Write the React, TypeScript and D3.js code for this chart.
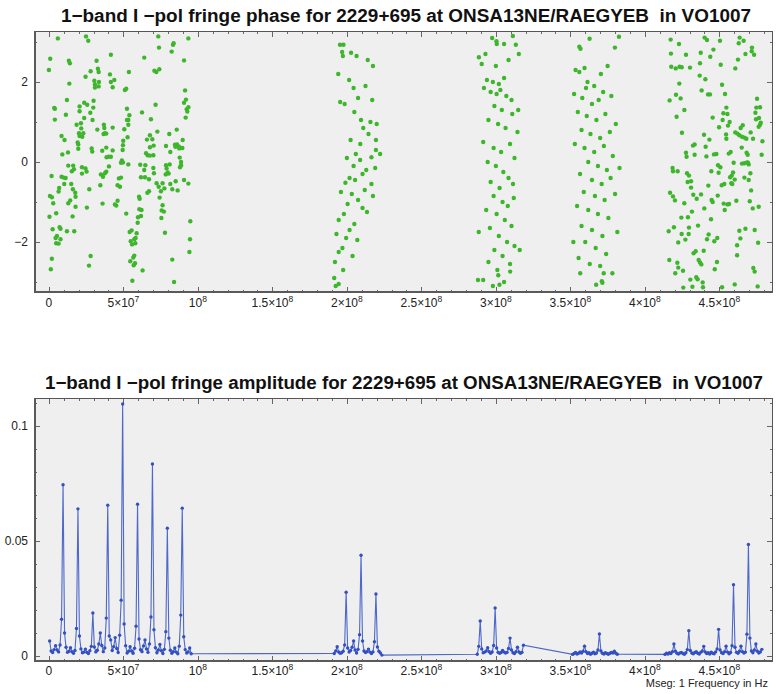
import { useEffect, useRef } from 'react';
import * as d3 from 'd3';

const W = 776;
const H = 694;

const titlePhase = '1\u2212band I \u2212pol fringe phase for 2229+695 at ONSA13NE/RAEGYEB  in VO1007';
const titleAmp = '1\u2212band I \u2212pol fringe amplitude for 2229+695 at ONSA13NE/RAEGYEB  in VO1007';
const footNote = 'Mseg: 1 Frequency in Hz';

// fringe phase samples, [frequency MHz, phase rad]
const phaseBand1: [number, number][] = [
  [6.0, 3.09], [24.9, 3.14], [26.4, 3.03], [73.4, 3.14], [93.6, 3.09], [83.7, 2.97], [83.3, 2.93], [73.9, 2.86],
  [82.4, 2.76], [41.6, 2.68], [64.0, 2.61], [0.9, 2.58], [13.4, 2.53], [14.1, 2.47], [32.0, 2.53], [90.7, 2.54],
  [0.0, 2.30], [28.0, 2.27], [32.9, 2.33], [33.4, 2.25], [53.7, 2.25], [70.8, 2.28], [72.1, 2.25], [74.1, 2.32],
  [41.0, 2.19], [24.6, 2.13], [13.7, 1.96], [30.5, 2.03], [33.6, 2.0], [30.9, 1.94], [30.9, 1.86], [33.4, 1.89],
  [41.6, 2.0], [43.9, 2.05], [42.8, 1.87], [51.0, 1.8], [51.9, 1.83], [91.4, 1.79], [12.1, 1.55], [23.7, 1.48],
  [20.6, 1.39], [25.7, 1.43], [30.0, 1.53], [3.6, 1.35], [4.0, 1.33], [11.4, 1.18], [20.6, 1.27], [27.8, 1.23],
  [29.8, 1.36], [52.4, 1.33], [54.0, 1.17], [62.5, 1.24], [71.6, 1.43], [90.7, 1.48], [92.0, 1.56], [93.6, 1.37],
  [92.9, 1.26], [92.5, 1.32], [91.8, 1.11], [4.0, 1.06], [23.7, 1.1], [21.5, 0.97], [18.6, 0.93], [29.3, 1.05],
  [52.4, 1.05], [53.3, 1.05], [68.5, 1.07], [42.8, 0.86], [32.5, 0.81], [36.9, 0.93], [37.2, 0.85], [37.6, 0.72],
  [36.7, 0.7], [38.5, 0.71], [21.7, 0.84], [20.2, 0.72], [23.1, 0.72], [20.6, 0.65], [22.4, 0.63], [53.3, 0.93],
  [50.6, 0.82], [52.8, 0.62], [67.8, 0.67], [72.8, 0.76], [80.8, 0.7], [85.8, 0.81], [8.5, 0.65], [10.5, 0.55],
  [19.3, 0.49], [19.7, 0.44], [19.7, 0.33], [28.7, 0.34], [29.1, 0.26], [38.5, 0.36], [42.8, 0.29], [49.9, 0.53],
  [49.7, 0.42], [49.5, 0.3], [65.8, 0.56], [69.4, 0.57], [70.3, 0.41], [67.8, 0.37], [78.6, 0.4], [84.6, 0.43],
  [86.0, 0.44], [87.3, 0.38], [89.8, 0.55], [89.6, 0.35], [81.5, 0.25], [9.0, 0.19], [12.8, 0.24], [35.8, 0.28],
  [40.1, 0.13], [38.7, 0.12], [41.6, 0.13], [65.2, 0.22], [66.3, 0.17], [67.8, 0.16], [70.1, 0.17], [84.9, 0.38],
  [87.5, 0.34], [87.8, 0.11], [13.0, -0.09], [16.3, -0.09], [16.8, -0.18], [15.4, -0.23], [22.2, -0.13], [24.6, -0.16],
  [22.2, -0.29], [25.3, -0.24], [49.0, 0.04], [48.4, -0.02], [49.7, -0.01], [53.3, -0.06], [61.3, -0.07], [64.7, -0.08],
  [64.0, -0.2], [70.1, -0.15], [70.5, -0.28], [78.6, -0.08], [81.1, -0.06], [79.0, -0.16], [79.7, -0.26], [78.4, -0.31],
  [80.4, -0.29], [88.7, 0.0], [88.7, -0.08], [88.0, -0.13], [1.8, -0.35], [8.5, -0.37], [9.9, -0.39], [11.2, -0.4],
  [10.3, -0.55], [6.9, -0.65], [6.5, -0.74], [15.0, -0.55], [16.1, -0.68], [17.7, -0.77], [17.9, -0.87], [13.0, -1.03],
  [14.3, -0.96], [17.9, -1.12], [27.1, -0.68], [25.5, -1.14], [34.9, -0.31], [36.3, -0.37], [37.6, -0.28], [38.5, -0.24],
  [40.3, -0.11], [34.5, -0.58], [46.1, -0.58], [47.0, -0.41], [48.4, -0.39], [47.7, -0.62], [61.8, -0.38], [64.5, -0.38],
  [67.2, -0.43], [72.3, -0.53], [73.7, -0.62], [76.3, -0.53], [75.2, -0.73], [77.5, -0.66], [67.2, -0.73], [66.1, -0.77],
  [81.5, -0.55], [85.1, -0.48], [90.7, -0.45], [93.6, -0.54], [82.8, -0.68], [86.4, -0.71], [46.1, -0.97], [44.3, -1.06],
  [45.2, -1.09], [36.0, -1.04], [60.5, -0.87], [60.9, -0.92], [0.7, -0.85], [2.0, -0.88], [2.9, -1.03], [4.9, -1.28],
  [0.4, -1.37], [15.9, -1.36], [12.1, -1.73], [17.0, -1.73], [2.5, -1.68], [7.2, -1.63], [7.8, -1.67], [5.4, -1.85],
  [7.8, -1.93], [4.5, -1.9], [4.9, -2.03], [6.5, -2.04], [74.3, -0.89], [76.3, -1.08], [75.7, -1.21], [77.2, -1.24],
  [75.5, -1.4], [51.9, -1.29], [60.7, -1.18], [62.2, -1.2], [61.8, -1.35], [59.8, -1.38], [59.6, -1.52], [55.5, -1.71],
  [54.2, -1.75], [58.9, -1.78], [94.9, -1.48], [77.9, -1.77], [58.2, -1.9], [57.3, -1.93], [54.9, -1.98], [58.0, -2.03],
  [55.8, -2.06], [94.7, -1.93], [28.0, -2.35], [26.9, -2.59], [2.0, -2.42], [1.3, -2.68], [57.3, -2.34], [56.6, -2.39],
  [54.6, -2.48], [57.8, -2.53], [56.9, -2.58], [62.9, -2.71], [56.0, -2.97], [82.8, -2.44], [94.3, -2.25], [84.0, -3.0],
];

const phaseBand2: [number, number][] = [
  [195.4, 2.93], [197.7, 2.93], [196.8, 2.75], [202.8, 2.73], [197.3, 2.65], [217.5, 2.4], [194.2, 2.2], [201.5, 2.05],
  [212.5, 1.9], [195.5, 1.5], [198.5, 1.45], [217.0, 1.55], [205.0, 1.25], [209.5, 1.05], [215.8, 1.0], [220.0, 0.95],
  [211.0, 0.85], [202.5, 0.55], [209.0, 0.45], [219.5, 0.3], [222.3, 0.2], [216.5, 0.12], [208.9, 0.05], [204.5, -0.1],
  [213.0, -0.2], [219.0, -0.15], [201.8, -0.4], [205.5, -0.45], [199.0, -0.52], [216.5, -0.55], [212.0, -0.7], [196.0, -0.75],
  [203.3, -0.8], [207.5, -0.95], [200.5, -1.05], [210.5, -1.15], [213.5, -1.25], [198.0, -1.3], [194.5, -1.45], [205.0, -1.55],
  [201.8, -1.7], [193.0, -1.8], [199.5, -1.9], [207.0, -1.95], [197.0, -2.15], [194.5, -2.25], [203.8, -2.35], [192.0, -2.5],
  [197.5, -2.7], [191.5, -2.9], [194.5, -3.05], [192.5, -3.1], [207.5, 1.6], [204.5, 1.85], [214.5, 0.7], [219.5, 0.55],
  [206.0, 0.2], [210.5, -0.3], [200.0, 0.1], [217.5, -0.85], [214.0, 2.55], [206.5, 2.65],
];

const phaseBand3: [number, number][] = [
  [300.4, 3.02], [300.6, 2.95], [311.4, 3.15], [313.4, 2.93], [315.4, 2.7], [288.6, 2.62], [297.5, 3.1], [305.5, 2.95],
  [290.5, 2.45], [300.0, 2.4], [308.5, 2.55], [294.0, 2.05], [298.0, 2.0], [302.0, 1.95], [305.5, 2.1], [292.0, 1.85],
  [296.5, 1.75], [300.5, 1.7], [303.0, 1.8], [307.0, 1.65], [310.5, 1.55], [299.0, 1.4], [304.0, 1.3], [311.0, 1.2],
  [295.0, 1.05], [301.5, 0.95], [306.5, 0.85], [314.5, 0.75], [291.5, 0.5], [298.5, 0.35], [303.5, 0.25], [309.5, 0.45],
  [312.5, 0.1], [294.5, 0.0], [300.0, -0.1], [305.0, -0.25], [308.5, -0.4], [296.5, -0.5], [302.5, -0.65], [311.5, -0.55],
  [298.5, -0.85], [304.5, -1.0], [308.0, -1.1], [293.5, -1.2], [300.5, -1.3], [306.0, -1.45], [310.5, -1.6], [296.0, -1.65],
  [288.5, -1.75], [302.0, -1.85], [307.5, -2.0], [312.5, -2.1], [299.0, -2.2], [304.5, -2.35], [295.0, -2.5], [309.5, -2.55],
  [301.0, -2.7], [288.0, -2.95], [291.5, -2.95], [305.5, -3.0], [298.0, -3.1], [316.0, -2.2], [315.0, 1.3], [293.0, 2.7],
  [312.0, -0.9], [301.6, -2.83], [302.4, -3.07], [309.6, -2.74],
];

const phaseBand4: [number, number][] = [
  [356.0, 2.88], [356.8, 2.83], [362.9, 3.08], [379.9, 2.86], [382.6, 3.13], [353.5, 2.3], [356.0, 2.25], [359.5, 2.35],
  [370.5, 2.2], [375.0, 2.4], [361.5, 2.0], [366.0, 1.9], [372.0, 1.75], [352.5, 1.7], [358.0, 1.6], [364.5, 1.45],
  [369.0, 1.55], [377.5, 1.65], [355.0, 1.25], [361.0, 1.15], [367.5, 1.05], [373.5, 1.2], [380.5, 0.95], [357.5, 0.8],
  [363.5, 0.7], [370.0, 0.6], [376.5, 0.75], [353.0, 0.45], [359.5, 0.35], [366.0, 0.25], [372.5, 0.4], [378.5, 0.15],
  [362.0, 0.0], [368.5, -0.1], [374.5, -0.2], [356.5, -0.3], [364.5, -0.45], [371.0, -0.55], [377.0, -0.4], [359.0, -0.75],
  [366.5, -0.85], [373.0, -0.95], [380.0, -0.8], [354.5, -1.1], [362.0, -1.2], [368.5, -1.3], [375.5, -1.4], [381.5, -1.75],
  [357.5, -1.6], [364.5, -1.7], [371.5, -1.85], [360.0, -2.0], [367.0, -2.15], [374.0, -2.3], [355.5, -2.4], [363.0, -2.55],
  [370.0, -2.6], [356.6, -2.78], [367.3, -3.07], [371.1, -2.98], [371.5, -3.02], [372.4, -2.78], [378.2, -2.78], [352.0, -2.0],
  [383.0, -0.15], [360.5, 1.85],
];

const phaseBand5: [number, number][] = [
  [417.3, 3.06], [422.9, 2.95], [440.1, 3.11], [441.7, 3.05], [450.4, 3.03], [463.6, 3.11], [466.3, 3.03], [463.0, 2.97],
  [446.0, 2.81], [437.5, 2.73], [427.6, 2.68], [417.5, 2.71], [471.9, 2.86], [471.7, 2.77], [473.3, 2.68], [467.5, 2.7],
  [443.9, 2.63], [462.5, 2.56], [437.0, 2.47], [450.9, 2.43], [417.7, 2.38], [420.7, 2.34], [423.3, 2.38], [424.7, 2.37],
  [430.3, 2.36], [460.7, 2.34], [436.8, 2.16], [440.6, 2.07], [423.1, 1.96], [451.8, 1.93], [438.1, 1.79], [442.4, 1.69],
  [443.7, 1.69], [453.8, 1.7], [420.9, 1.68], [424.0, 1.59], [416.6, 1.54], [475.3, 1.58], [426.5, 1.3], [454.7, 1.36],
  [474.8, 1.36], [477.3, 1.37], [452.7, 1.22], [455.4, 1.2], [474.2, 1.23], [421.3, 1.13], [445.5, 1.11], [452.2, 1.05],
  [456.9, 1.0], [455.8, 0.91], [449.8, 0.87], [474.6, 1.07], [476.6, 1.1], [477.8, 0.98], [477.3, 0.93], [476.4, 0.88],
  [465.7, 0.92], [464.3, 0.85], [460.7, 0.74], [462.1, 0.71], [463.4, 0.67], [465.2, 0.63], [466.8, 0.61], [468.1, 0.58],
  [471.0, 0.74], [472.6, 0.58], [478.9, 0.52], [424.9, 0.73], [439.7, 0.68], [443.3, 0.56], [454.5, 0.69], [454.7, 0.58],
  [433.4, 0.44], [432.3, 0.41], [440.8, 0.38], [427.6, 0.23], [428.0, 0.13], [433.4, 0.18], [441.3, 0.14], [446.4, 0.19],
  [448.0, 0.2], [456.3, 0.21], [457.6, 0.25], [465.0, 0.36], [468.3, 0.23], [469.0, 0.18], [478.4, 0.18], [418.6, -0.15],
  [418.9, -0.23], [422.0, -0.23], [428.3, -0.28], [429.6, -0.34], [449.1, -0.08], [450.7, -0.13], [459.6, -0.02], [465.2, -0.04],
  [466.8, -0.03], [468.6, -0.01], [469.7, -0.06], [469.2, -0.02], [444.6, -0.23], [449.5, -0.27], [459.2, -0.26], [458.3, -0.34],
  [457.2, -0.38], [460.3, -0.44], [458.0, -0.53], [458.7, -0.55], [466.8, -0.39], [469.7, -0.45], [470.8, -0.28], [428.7, -0.5],
  [431.0, -0.48], [431.0, -0.64], [442.6, -0.59], [451.6, -0.58], [453.3, -0.55], [416.9, -0.77], [418.9, -0.86], [420.2, -0.96],
  [426.5, -1.03], [432.5, -0.82], [434.8, -0.92], [437.7, -0.81], [448.9, -0.84], [444.8, -0.95], [445.5, -1.0], [452.9, -1.04],
  [455.4, -1.06], [456.5, -1.05], [461.4, -0.97], [470.4, -0.98], [471.3, -0.71], [439.9, -1.16], [453.6, -1.2], [472.4, -1.16],
  [476.4, -1.12], [431.6, -1.24], [424.5, -1.39], [428.9, -1.38], [444.4, -1.43], [416.0, -1.73], [419.5, -1.63], [424.7, -1.8],
  [429.6, -1.64], [429.4, -1.8], [435.7, -1.59], [427.2, -1.94], [422.4, -2.01], [442.8, -1.81], [441.7, -1.93], [448.6, -1.9],
  [446.6, -1.98], [463.4, -1.72], [467.5, -1.67], [473.7, -1.7], [464.1, -1.91], [461.9, -2.08], [476.0, -2.02], [434.1, -2.23],
  [432.7, -2.28], [439.5, -2.22], [461.9, -2.33], [416.4, -2.45], [436.1, -2.45], [437.0, -2.51], [437.9, -2.56], [448.4, -2.5],
  [446.9, -2.68], [421.8, -2.52], [422.4, -2.64], [425.6, -2.72], [420.4, -2.78], [472.8, -2.65], [473.7, -2.74], [434.5, -2.88],
  [435.4, -2.93], [430.5, -2.94], [438.8, -3.01], [439.0, -3.13], [431.9, -3.12], [425.8, -3.14], [451.8, -3.13], [460.3, -3.06],
  [475.7, -3.11],
];

// fringe amplitude per 1 MHz channel, first channel frequency of each band in MHz
const ampStartMHz = [0.5, 191.5, 287.5, 351.5, 413.5];
const ampChannelMHz = 1;

const ampBand1 = [
  0.0065, 0.0022, 0.0015, 0.0028, 0.0045, 0.0026, 0.0018, 0.0048, 0.016, 0.0745,
  0.010, 0.0038, 0.0016, 0.0021, 0.0036, 0.0019, 0.0012, 0.0024, 0.012, 0.064,
  0.0087, 0.0031, 0.0014, 0.0017, 0.003, 0.0016, 0.0011, 0.0023, 0.0042, 0.0187,
  0.0039, 0.0018, 0.0025, 0.0052, 0.010, 0.0046, 0.0019, 0.0035, 0.0165, 0.0656,
  0.0087, 0.007, 0.0024, 0.0041, 0.008, 0.0033, 0.0015, 0.009, 0.0243, 0.1096,
  0.0139, 0.0045, 0.0013, 0.0021, 0.004, 0.0022, 0.0012, 0.0034, 0.013, 0.066,
  0.0074, 0.0027, 0.0019, 0.0044, 0.007, 0.0031, 0.0016, 0.0052, 0.017, 0.0835,
  0.0114, 0.0036, 0.0014, 0.0026, 0.005, 0.0023, 0.0011, 0.0029, 0.0106, 0.0556,
  0.0078, 0.0025, 0.0012, 0.0019, 0.0035, 0.0017, 0.001, 0.0043, 0.0178, 0.0643,
  0.0084, 0.0028, 0.0013, 0.0018, 0.0035, 0.0010,
];

const ampBand2 = [
  0.0011, 0.0022, 0.004, 0.0018, 0.0012, 0.0014, 0.0021, 0.0048, 0.0277, 0.0035,
  0.0017, 0.0024, 0.0038, 0.0065, 0.0026, 0.0013, 0.0029, 0.0093, 0.0438, 0.0065,
  0.0022, 0.0015, 0.0019, 0.003, 0.0017, 0.0011, 0.0018, 0.0062, 0.027, 0.0039,
  0.0021, 0.0013, 0.0004,
];

const ampBand3 = [
  0.0008, 0.0042, 0.0152, 0.0031, 0.0014, 0.0017, 0.0022, 0.0036, 0.0019, 0.0012,
  0.0018, 0.0046, 0.0209, 0.0035, 0.0016, 0.0012, 0.0015, 0.0024, 0.0017, 0.0013,
  0.0016, 0.0033, 0.0078, 0.0026, 0.0014, 0.0011, 0.0019, 0.0038, 0.0018, 0.0012,
  0.0016, 0.0047,
];

const ampBand4 = [
  0.0007, 0.0011, 0.0015, 0.0009, 0.0012, 0.0018, 0.0013, 0.0021, 0.0043, 0.0019,
  0.0011, 0.0014, 0.0008, 0.0012, 0.0017, 0.001, 0.0013, 0.0026, 0.0096, 0.0022,
  0.0012, 0.0009, 0.0014, 0.0011, 0.0008, 0.0012, 0.0015, 0.0013, 0.0021, 0.0012,
  0.0008,
];

const ampBand5 = [
  0.0007, 0.0012, 0.0009, 0.0014, 0.0011, 0.0019, 0.0052, 0.0021, 0.0012, 0.0009,
  0.0013, 0.0016, 0.0011, 0.0008, 0.0014, 0.0028, 0.011, 0.0024, 0.0013, 0.001,
  0.0015, 0.0019, 0.0012, 0.0009, 0.0016, 0.0022, 0.0042, 0.0018, 0.0011, 0.0014,
  0.0009, 0.0017, 0.0012, 0.001, 0.0018, 0.0031, 0.0116, 0.0026, 0.0014, 0.0011,
  0.0019, 0.0043, 0.0017, 0.001, 0.0015, 0.0045, 0.031, 0.0038, 0.0016, 0.0012,
  0.0021, 0.0043, 0.0019, 0.0013, 0.0017, 0.0095, 0.0485, 0.0078, 0.0022, 0.0014,
  0.0026, 0.0052, 0.0021, 0.0013, 0.0018, 0.0029,
];

const xTickValues = [0, 5e7, 1e8, 1.5e8, 2e8, 2.5e8, 3e8, 3.5e8, 4e8, 4.5e8];
const xTickLabels: [string, string][] = [
  ['0', ''], ['5\u00d710', '7'], ['10', '8'], ['1.5\u00d710', '8'], ['2\u00d710', '8'],
  ['2.5\u00d710', '8'], ['3\u00d710', '8'], ['3.5\u00d710', '8'], ['4\u00d710', '8'], ['4.5\u00d710', '8'],
];
const phaseTickValues = [-2, 0, 2];
const phaseTickLabels = ['\u22122', '0', '2'];
const ampTickValues = [0, 0.05, 0.1];
const ampTickLabels = ['0', '0.05', '0.1'];

const GREEN = '#3db62b';
const BLUE = '#3350c2';
const FONT = '"Liberation Sans", Arial, sans-serif';

export default function App() {
  const svgRef = useRef<SVGSVGElement>(null);

  useEffect(() => {
    if (!svgRef.current) return;
    document.body.style.margin = '0';

    const svg = d3.select(svgRef.current);
    svg.selectAll('*').remove();

    const left = 34;
    const right = 773;
    const x = d3.scaleLinear().domain([-1e7, 4.86e8]).range([left, right]);

    // draws the frame, ticks and tick labels of one panel
    const panel = (
      y: d3.ScaleLinear<number, number>,
      majorY: number[],
      labelsY: string[],
      minorY: number[],
      title: string,
      titleY: number,
      titleX: number,
      titleW: number,
      labelY: number
    ) => {
      const [bottom, top] = y.range();
      const g = svg.append('g');

      g.append('rect')
        .attr('x', left).attr('y', top)
        .attr('width', right - left).attr('height', bottom - top)
        .attr('fill', '#efefef');

      const minorX = d3.range(-1e7, 4.86e8, 1e7);
      const tick = g.append('g').attr('stroke', '#666').attr('stroke-width', 1);
      minorX.forEach((v) => {
        const major = xTickValues.some((t) => Math.abs(t - v) < 1);
        const len = major ? 6 : 3;
        const px = Math.round(x(v)) + 0.5;
        tick.append('line').attr('x1', px).attr('x2', px).attr('y1', bottom).attr('y2', bottom - len);
        tick.append('line').attr('x1', px).attr('x2', px).attr('y1', top).attr('y2', top + len);
      });
      minorY.forEach((v) => {
        const major = majorY.some((t) => Math.abs(t - v) < 1e-9);
        const len = major ? 6 : 3;
        const py = Math.round(y(v)) + 0.5;
        tick.append('line').attr('x1', left).attr('x2', left + len).attr('y1', py).attr('y2', py);
        tick.append('line').attr('x1', right).attr('x2', right - len).attr('y1', py).attr('y2', py);
      });

      g.append('rect')
        .attr('x', left + 0.5).attr('y', top + 0.5)
        .attr('width', right - left - 1).attr('height', bottom - top - 1)
        .attr('fill', 'none').attr('stroke', '#555').attr('stroke-width', 1);
      g.append('path')
        .attr('d', `M${left + 1},${top} V${bottom - 1} H${right}`)
        .attr('fill', 'none').attr('stroke', '#5a5a5a').attr('stroke-width', 2);

      xTickValues.forEach((v, i) => {
        const [base, exp] = xTickLabels[i];
        const t = g.append('text')
          .attr('x', x(v)).attr('y', labelY)
          .attr('text-anchor', 'middle')
          .style('font-family', FONT).style('font-size', '12px').attr('fill', '#222');
        t.append('tspan').text(base);
        if (exp) t.append('tspan').attr('dy', -5).style('font-size', '8.5px').text(exp);
      });

      majorY.forEach((v, i) => {
        g.append('text')
          .attr('x', 28).attr('y', y(v) + 4)
          .attr('text-anchor', 'end')
          .style('font-family', FONT).style('font-size', '12px').attr('fill', '#222')
          .text(labelsY[i]);
      });

      g.append('text')
        .attr('x', titleX).attr('y', titleY)
        .attr('text-anchor', 'middle')
        .attr('textLength', titleW)
        .attr('lengthAdjust', 'spacingAndGlyphs')
        .style('font-family', FONT).style('font-size', '18px').style('font-weight', 'bold')
        .style('white-space', 'pre').attr('fill', '#111')
        .text(title);
      return g;
    };

    // phase panel
    const yPhase = d3.scaleLinear().domain([-3.275, 3.275]).range([293, 31]);
    panel(yPhase, phaseTickValues, phaseTickLabels, d3.range(-3, 4, 1), titlePhase, 22, 406, 690, 307);

    const phasePoints = [...phaseBand1, ...phaseBand2, ...phaseBand3, ...phaseBand4, ...phaseBand5];
    svg.append('g')
      .selectAll('circle')
      .data(phasePoints)
      .join('circle')
      .attr('cx', (d) => x(d[0] * 1e6))
      .attr('cy', (d) => yPhase(d[1]))
      .attr('r', 2.2)
      .attr('fill', GREEN);

    // amplitude panel
    const yAmp = d3.scaleLinear().domain([-0.0026, 0.1122]).range([662, 398]);
    panel(yAmp, ampTickValues, ampTickLabels, d3.range(0, 0.111, 0.01).map((v) => +v.toFixed(2)), titleAmp, 389, 404, 718, 675);

    const ampPoints: [number, number][] = [];
    [ampBand1, ampBand2, ampBand3, ampBand4, ampBand5].forEach((band, b) => {
      band.forEach((a, i) => ampPoints.push([(ampStartMHz[b] + i * ampChannelMHz) * 1e6, a]));
    });

    const line = d3.line<[number, number]>()
      .x((d) => x(d[0]))
      .y((d) => yAmp(d[1]));

    svg.append('path')
      .datum(ampPoints)
      .attr('d', line)
      .attr('fill', 'none')
      .attr('stroke', BLUE)
      .attr('stroke-opacity', 0.85)
      .attr('stroke-width', 1.1);

    svg.append('g')
      .selectAll('circle')
      .data(ampPoints)
      .join('circle')
      .attr('cx', (d) => x(d[0]))
      .attr('cy', (d) => yAmp(d[1]))
      .attr('r', 1.7)
      .attr('fill', BLUE);

    svg.append('text')
      .attr('x', 768).attr('y', 687)
      .attr('text-anchor', 'end')
      .style('font-family', FONT).style('font-size', '11px').attr('fill', '#222')
      .text(footNote);
  }, []);

  return <svg ref={svgRef} width={W} height={H} style={{ display: 'block', background: '#fff' }} />;
}
